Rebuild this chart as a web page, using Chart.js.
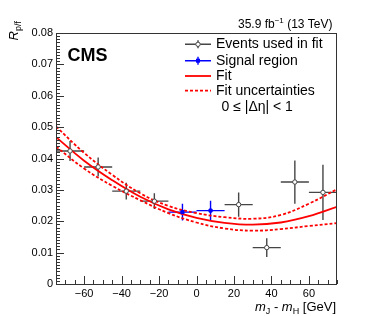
<!DOCTYPE html>
<html>
<head>
<meta charset="utf-8">
<script src="https://cdn.jsdelivr.net/npm/chart.js@4.4.1/dist/chart.umd.min.js"></script>
<style>
  body { margin: 0; background: #fff; }
  #wrap { width: 374px; height: 316px; position: relative; }
</style>
</head>
<body>
<div id="wrap"><canvas id="rpfChart"></canvas></div>
<script>
// bins in mJ - mH (GeV), half width of each bin
const binHalf = 7.5;
const evX = [-67.5, -52.5, -37.5, -22.5, 22.5, 37.5, 52.5, 67.5];
const evR = [0.0424, 0.0373, 0.0296, 0.0264, 0.0253, 0.0116, 0.0325, 0.0292];
const evErr = [0.0032, 0.0030, 0.0027, 0.0025, 0.0039, 0.0030, 0.0069, 0.0088];

const sigX = [-7.5, 7.5];
const sigR = [0.0229, 0.0234];
const sigErr = [0.0027, 0.0031];

// fit curve and its uncertainty band
const fitX = [-75, -60, -45, -30, -15, 0, 15, 30, 45, 60, 75];
const fitR = [0.0468, 0.0393, 0.0331, 0.0278, 0.0238, 0.0211, 0.0195, 0.0189, 0.0196, 0.0216, 0.0246];
const fitUp = [0.0502, 0.0418, 0.0348, 0.0289, 0.0249, 0.0226, 0.0213, 0.0208, 0.0220, 0.0256, 0.0302];
const fitDown = [0.0438, 0.0368, 0.0313, 0.0267, 0.0226, 0.0196, 0.0177, 0.0170, 0.0175, 0.0185, 0.0194];

const xTicks = [-60, -40, -20, 0, 20, 40, 60];
const yTicks = [0, 0.01, 0.02, 0.03, 0.04, 0.05, 0.06, 0.07, 0.08];

const FONT = "'Liberation Sans', Arial, Helvetica, sans-serif";
const GREY = '#454545';
const BLUE = '#0000ff';
const RED = '#ff0000';

const pts = (xs, ys) => xs.map((x, i) => ({ x: x, y: ys[i] }));

// error bars (drawn under the markers)
const errorBars = {
    id: 'errorBars',
    beforeDatasetsDraw(chart) {
        const { ctx, scales: { x, y }, chartArea: a } = chart;
        ctx.save();
        ctx.beginPath();
        ctx.rect(a.left, a.top, a.right - a.left, a.bottom - a.top);
        ctx.clip();
        const draw = (xs, ys, es, color) => {
            ctx.strokeStyle = color;
            ctx.lineWidth = 1.4;
            xs.forEach((xv, i) => {
                const px = x.getPixelForValue(xv);
                const py = y.getPixelForValue(ys[i]);
                ctx.beginPath();
                ctx.moveTo(x.getPixelForValue(xv - binHalf), py);
                ctx.lineTo(x.getPixelForValue(xv + binHalf), py);
                ctx.moveTo(px, y.getPixelForValue(ys[i] + es[i]));
                ctx.lineTo(px, y.getPixelForValue(ys[i] - es[i]));
                ctx.stroke();
            });
        };
        draw(evX, evR, evErr, GREY);
        draw(sigX, sigR, sigErr, BLUE);
        ctx.restore();
    }
};

// frame, inward ticks, titles and legend in ROOT style
const rootFrame = {
    id: 'rootFrame',
    afterDraw(chart) {
        const { ctx, scales: { x, y }, chartArea: a } = chart;
        ctx.save();
        ctx.strokeStyle = '#333';
        ctx.lineWidth = 1;
        ctx.strokeRect(a.left + 0.5, a.top + 0.5, a.right - a.left - 1, a.bottom - a.top);

        // y ticks
        ctx.beginPath();
        for (let k = 0; k <= 80; k++) {
            const py = Math.round(y.getPixelForValue(k / 1000)) + 0.5;
            const len = k % 10 === 0 ? 8 : 4;
            ctx.moveTo(a.left, py);
            ctx.lineTo(a.left + len, py);
        }
        // x ticks
        for (let v = -75; v <= 75; v += 5) {
            const px = Math.round(x.getPixelForValue(v)) + 0.5;
            const len = v % 20 === 0 ? 8 : 4;
            ctx.moveTo(px, a.bottom);
            ctx.lineTo(px, a.bottom - len);
        }
        ctx.stroke();

        ctx.fillStyle = '#000';
        ctx.textBaseline = 'alphabetic';

        // CMS label
        ctx.font = 'bold 18px ' + FONT;
        ctx.textAlign = 'left';
        ctx.fillText('CMS', 67.5, 61);

        // luminosity label
        ctx.font = '12px ' + FONT;
        const t1 = '35.9 fb', t3 = ' (13 TeV)';
        const w1 = ctx.measureText(t1).width, w3 = ctx.measureText(t3).width;
        ctx.font = '8px ' + FONT;
        const w2 = ctx.measureText('\u22121').width;
        let tx = 332.5 - (w1 + w2 + w3);
        ctx.font = '12px ' + FONT;
        ctx.fillText(t1, tx, 28);
        ctx.font = '8px ' + FONT;
        ctx.fillText('\u22121', tx + w1, 23);
        ctx.font = '12px ' + FONT;
        ctx.fillText(t3, tx + w1 + w2, 28);

        // x title: m_J - m_H [GeV]
        const parts = [
            ['m', 'italic 13px ', 0], ['J', '9px ', 3], [' - ', '13px ', 0],
            ['m', 'italic 13px ', 0], ['H', '9px ', 3], [' [GeV]', '13px ', 0]
        ];
        let total = 0;
        parts.forEach(p => { ctx.font = p[1] + FONT; total += ctx.measureText(p[0]).width; });
        tx = 336 - total;
        parts.forEach(p => {
            ctx.font = p[1] + FONT;
            ctx.fillText(p[0], tx, 310.5 + p[2]);
            tx += ctx.measureText(p[0]).width;
        });

        // y title: R_p/f (rotated)
        ctx.save();
        ctx.translate(17.5, 40.5);
        ctx.rotate(-Math.PI / 2);
        ctx.font = 'italic 13px ' + FONT;
        ctx.fillText('R', 0, 0);
        const wr = ctx.measureText('R').width;
        ctx.font = '9px ' + FONT;
        ctx.fillText('p/f', wr, 3);
        ctx.restore();

        // legend
        const lx0 = 185, lx1 = 211, lxc = 198;
        const rows = [44.3, 60.7, 76, 90.7];
        ctx.lineWidth = 1.4;
        ctx.strokeStyle = GREY;
        ctx.beginPath();
        ctx.moveTo(lx0, rows[0]); ctx.lineTo(lx1, rows[0]);
        ctx.moveTo(lxc, rows[0] - 4); ctx.lineTo(lxc, rows[0] + 4);
        ctx.stroke();
        ctx.fillStyle = '#fff';
        ctx.lineWidth = 1;
        ctx.beginPath(); ctx.arc(lxc, rows[0], 2.2, 0, 2 * Math.PI); ctx.fill(); ctx.stroke();

        ctx.strokeStyle = BLUE;
        ctx.lineWidth = 1.4;
        ctx.beginPath();
        ctx.moveTo(lx0, rows[1]); ctx.lineTo(lx1, rows[1]);
        ctx.moveTo(lxc, rows[1] - 4); ctx.lineTo(lxc, rows[1] + 4);
        ctx.stroke();
        ctx.fillStyle = BLUE;
        ctx.fillRect(lxc - 2, rows[1] - 2, 4, 4);

        ctx.strokeStyle = RED;
        ctx.lineWidth = 1.8;
        ctx.beginPath(); ctx.moveTo(lx0, rows[2]); ctx.lineTo(lx1, rows[2]); ctx.stroke();
        ctx.setLineDash([3, 2]);
        ctx.beginPath(); ctx.moveTo(lx0, rows[3]); ctx.lineTo(lx1, rows[3]); ctx.stroke();
        ctx.setLineDash([]);

        ctx.fillStyle = '#000';
        ctx.font = '14px ' + FONT;
        ctx.textBaseline = 'middle';
        ctx.fillText('Events used in fit', 216, rows[0]);
        ctx.fillText('Signal region', 216, rows[1]);
        ctx.fillText('Fit', 216, rows[2]);
        ctx.fillText('Fit uncertainties', 216, rows[3]);
        ctx.fillText('0 \u2264 |\u0394\u03b7| < 1', 221.5, 107.5);
        ctx.restore();
    }
};

const ctx = document.getElementById('rpfChart').getContext('2d');
new Chart(ctx, {
    type: 'scatter',
    data: {
        datasets: [
            {
                label: 'Events used in fit',
                data: pts(evX, evR),
                pointStyle: 'circle',
                pointRadius: 2.2,
                pointBackgroundColor: '#fff',
                pointBorderColor: GREY,
                pointBorderWidth: 1,
                order: 0
            },
            {
                label: 'Signal region',
                data: pts(sigX, sigR),
                pointStyle: 'rect',
                pointRadius: 2.2,
                pointBackgroundColor: BLUE,
                pointBorderColor: BLUE,
                order: 0
            },
            {
                type: 'line',
                label: 'Fit',
                data: pts(fitX, fitR),
                borderColor: RED,
                borderWidth: 1.8,
                pointRadius: 0,
                tension: 0.4,
                fill: false,
                order: 1
            },
            {
                type: 'line',
                label: 'Fit uncertainties',
                data: pts(fitX, fitUp),
                borderColor: RED,
                borderWidth: 1.8,
                borderDash: [3, 2],
                pointRadius: 0,
                tension: 0.4,
                fill: false,
                order: 1
            },
            {
                type: 'line',
                label: 'Fit uncertainties (down)',
                data: pts(fitX, fitDown),
                borderColor: RED,
                borderWidth: 1.8,
                borderDash: [3, 2],
                pointRadius: 0,
                tension: 0.4,
                fill: false,
                order: 1
            }
        ]
    },
    options: {
        responsive: true,
        maintainAspectRatio: false,
        animation: false,
        layout: { padding: { top: 33, right: 37, left: 0, bottom: 0 } },
        plugins: {
            legend: { display: false },
            tooltip: { enabled: false }
        },
        scales: {
            x: {
                type: 'linear',
                min: -75,
                max: 75,
                afterBuildTicks: s => { s.ticks = xTicks.map(v => ({ value: v })); },
                afterFit: s => { s.height = 32; },
                grid: { display: false, drawTicks: false },
                border: { display: false },
                ticks: {
                    color: '#000',
                    padding: 3,
                    maxRotation: 0,
                    autoSkip: false,
                    font: { family: FONT, size: 11 },
                    callback: v => (v < 0 ? '\u2212' + Math.abs(v) : String(v))
                }
            },
            y: {
                type: 'linear',
                min: 0,
                max: 0.08,
                afterBuildTicks: s => { s.ticks = yTicks.map(v => ({ value: v })); },
                afterFit: s => { s.width = 56; },
                grid: { display: false, drawTicks: false },
                border: { display: false },
                ticks: {
                    color: '#000',
                    padding: 3,
                    autoSkip: false,
                    font: { family: FONT, size: 11 },
                    callback: v => (v === 0 ? '0' : v.toFixed(2))
                }
            }
        }
    },
    plugins: [errorBars, rootFrame]
});
</script>
</body>
</html>
